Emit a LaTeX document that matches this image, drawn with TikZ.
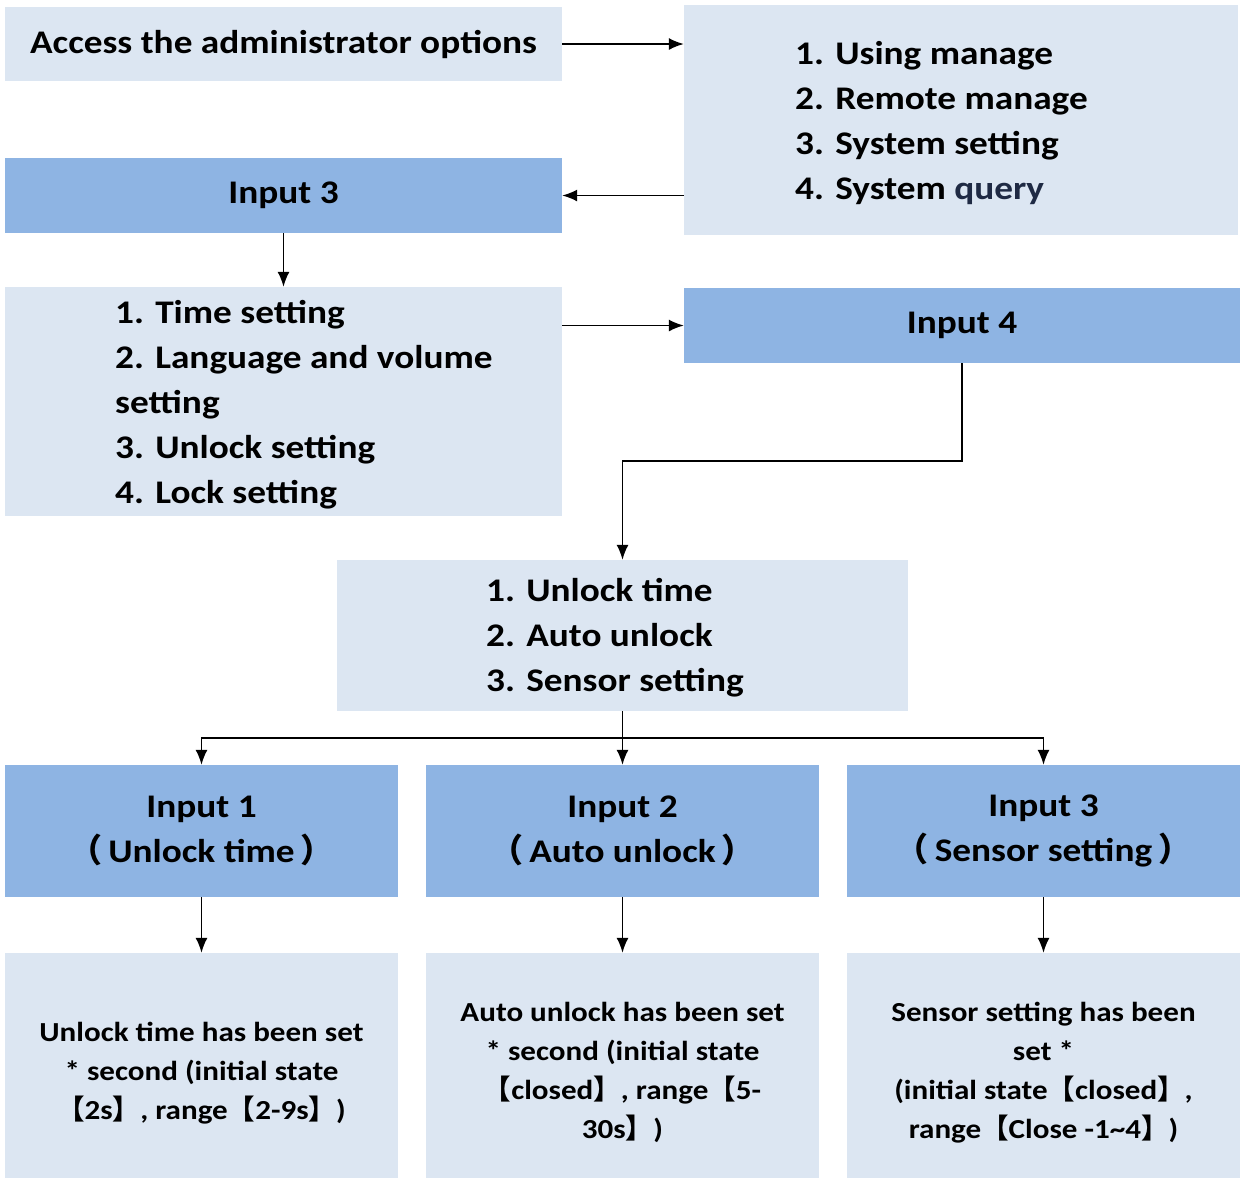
\documentclass[tikz,border=0pt]{standalone}
\usepackage{fontspec}
\setmainfont{Carlito}[FakeStretch=1.13]
\newfontfamily\cjk{Noto Sans CJK SC}
\usepackage{tikz}
\newcommand{\openbr}{{\cjk 【}}
\newcommand{\closebr}{{\cjk 】}}
\newcommand{\openpa}{{\cjk （}\hspace{6pt}}
\newcommand{\closepa}{\hspace{6pt}{\cjk ）}}
\usetikzlibrary{shapes, arrows.meta, positioning}
\definecolor{panel}{HTML}{DCE6F2}
\definecolor{keypanel}{HTML}{8EB4E3}
\definecolor{navy}{HTML}{1F2A44}
\tikzstyle{menubox} = [fill=panel, rectangle, inner sep=0pt, font=\bfseries\fontsize{33}{45}\selectfont, align=center]
\tikzstyle{inputbox} = [fill=keypanel, rectangle, inner sep=0pt, font=\bfseries\fontsize{33}{45}\selectfont, align=center]
\tikzstyle{resultbox} = [fill=panel, rectangle, inner sep=0pt, font=\bfseries\fontsize{27.5}{39}\selectfont, align=center]
\tikzstyle{listtext} = [anchor=west, inner sep=0pt, font=\bfseries\fontsize{33}{45}\selectfont, align=left]
\tikzstyle{link} = [line width=1.6pt, -{Latex[length=15pt,width=12pt]}]

\begin{document}
\begin{tikzpicture}[x=1pt, y=-1pt]
	\useasboundingbox (0,0) rectangle (1243,1179);
	% top part
	\node [menubox, minimum width=557pt, minimum height=74pt] (access) at (283.5,44) {Access the administrator options};
	\node [menubox, minimum width=554pt, minimum height=230pt] (menu) at (961,120) {};
	\node [listtext] (menulist) at (795,123) {1. Using manage\\2. Remote manage\\3. System setting\\4. System {\color{navy}query}};
	\node [inputbox, minimum width=557pt, minimum height=75pt] (input3) at (283.5,195.5) {Input 3};
	\node [menubox, minimum width=557pt, minimum height=229pt] (timebox) at (283.5,401.5) {};
	\node [listtext] (timelist) at (115,405) {1. Time setting\\2. Language and volume\\setting\\3. Unlock setting\\4. Lock setting};
	\node [inputbox, minimum width=556pt, minimum height=75pt] (input4) at (962,325.5) {Input 4};
	% middle part
	\node [menubox, minimum width=571pt, minimum height=151pt] (unlockbox) at (622.5,635.5) {};
	\node [listtext] (unlocklist) at (486,638) {1. Unlock time\\2. Auto unlock\\3. Sensor setting};
	% bottom part
	\node [inputbox, minimum width=393pt, minimum height=132pt] (in1) at (201.5,831) {Input 1\\\openpa Unlock time\closepa};
	\node [inputbox, minimum width=393pt, minimum height=132pt] (in2) at (622.5,831) {Input 2\\\openpa Auto unlock\closepa};
	\node [inputbox, minimum width=393pt, minimum height=132pt] (in3) at (1043.5,831) {Input 3\\\openpa Sensor setting\closepa};
	\node [resultbox, minimum width=393pt, minimum height=225pt] (res1) at (201.5,1065.5) {\rule{0pt}{34pt}Unlock time has been set\\* second (initial state\\\openbr 2s\closebr , range\openbr 2-9s\closebr )};
	\node [resultbox, minimum width=393pt, minimum height=225pt] (res2) at (622.5,1065.5) {\rule{0pt}{34pt}Auto unlock has been set\\* second (initial state\\\openbr closed\closebr , range\openbr 5-\\30s\closebr )};
	\node [resultbox, minimum width=393pt, minimum height=225pt] (res3) at (1043.5,1065.5) {\rule{0pt}{34pt}Sensor setting has been\\set *\\(initial state\openbr closed\closebr ,\\range\openbr Close -1\textasciitilde 4\closebr )};
	% connectors
	\coordinate (turn) at (962,461);
	\coordinate (split) at (622.5,738);
	\draw [link] (access.east) -- (menu.west |- access.east);
	\draw [link] (menu.west |- input3.east) -- (input3.east);
	\draw [link] (input3.south) -- (timebox.north);
	\draw [link] (timebox.east |- input4.west) -- (input4.west);
	\draw [link] (input4.south) -- (turn) -| (unlockbox.north);
	\draw [line width=1.6pt] (unlockbox.south) -- (split);
	\foreach \i in {1,2,3} {
		\draw [link] (split) -| (in\i.north);
		\draw [link] (in\i.south) -- (res\i.north);
	}
\end{tikzpicture}
\end{document}
